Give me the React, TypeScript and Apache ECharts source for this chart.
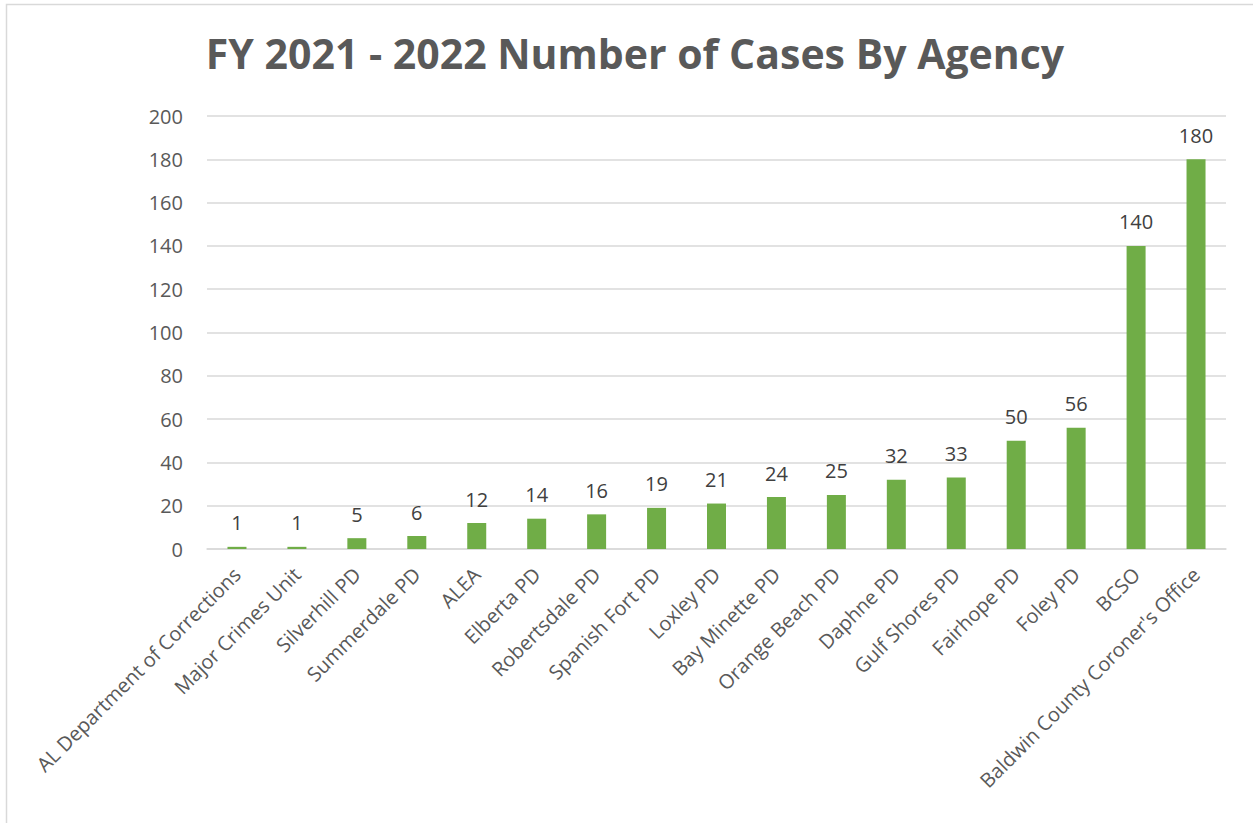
import React, { useEffect, useRef } from "react";
import * as echarts from "echarts";

const title = "FY 2021 - 2022 Number of Cases By Agency";
const agencies = [
  "AL Department of Corrections",
  "Major Crimes Unit",
  "Silverhill PD",
  "Summerdale PD",
  "ALEA",
  "Elberta PD",
  "Robertsdale PD",
  "Spanish Fort PD",
  "Loxley PD",
  "Bay Minette PD",
  "Orange Beach PD",
  "Daphne PD",
  "Gulf Shores PD",
  "Fairhope PD",
  "Foley PD",
  "BCSO",
  "Baldwin County Coroner's Office",
];
const cases = [1, 1, 5, 6, 12, 14, 16, 19, 21, 24, 25, 32, 33, 50, 56, 140, 180];

export default function App() {
  const ref = useRef<HTMLDivElement>(null);
  useEffect(() => {
    if (!ref.current) return;
    const chart = echarts.init(ref.current, null, { renderer: "svg" });
    const font = "'Open Sans', 'Liberation Sans', sans-serif";
    chart.setOption({
      animation: false,
      backgroundColor: "#ffffff",
      title: {
        text: title,
        left: 630,
        textAlign: "center",
        top: 27,
        textStyle: {
          fontFamily: font,
          fontSize: 41,
          fontWeight: "bold",
          color: "#595959",
        },
      },
      graphic: [
        {
          type: "rect",
          shape: { x: 6.5, y: 4.5, width: 1300, height: 900 },
          style: { fill: "none", stroke: "#d9d9d9", lineWidth: 1.5 },
          silent: true,
        },
      ],
      grid: { left: 207, right: 27, top: 116, bottom: 274 },
      xAxis: {
        type: "category",
        data: agencies,
        axisLine: { lineStyle: { color: "#d9d9d9", width: 1.5 } },
        axisTick: { show: false },
        axisLabel: {
          interval: 0,
          rotate: 45,
          margin: 22,
          fontFamily: font,
          fontSize: 20,
          color: "#595959",
        },
      },
      yAxis: {
        type: "value",
        min: 0,
        max: 200,
        interval: 20,
        axisLine: { show: false },
        axisTick: { show: false },
        splitLine: { lineStyle: { color: "#d9d9d9", width: 1.5 } },
        axisLabel: {
          margin: 24,
          fontFamily: font,
          fontSize: 20,
          color: "#595959",
        },
      },
      series: [
        {
          type: "bar",
          data: cases,
          barWidth: 19,
          itemStyle: { color: "#70ad47" },
          label: {
            show: true,
            position: "top",
            distance: 14,
            fontFamily: font,
            fontSize: 20,
            color: "#404040",
          },
        },
      ],
    });
    return () => chart.dispose();
  }, []);
  return (
    <div
      ref={ref}
      style={{ position: "absolute", left: 0, top: 0, width: 1253, height: 823 }}
    />
  );
}
